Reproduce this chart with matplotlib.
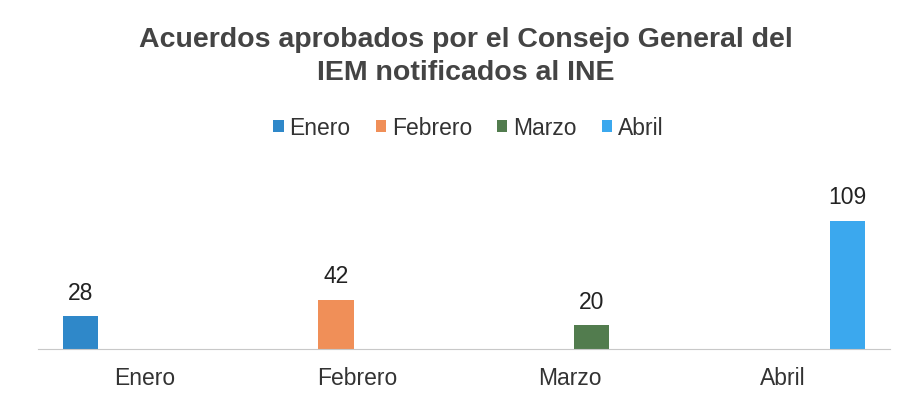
import numpy as np
import matplotlib.pyplot as plt

plt.rcParams['font.family'] = ['Liberation Sans', 'DejaVu Sans']

meses = ["Enero", "Febrero", "Marzo", "Abril"]
acuerdos = [28, 42, 20, 109]
colores = ["#2F88C9", "#F08F58", "#527C4E", "#3BA8EE"]

fig = plt.figure(figsize=(9.22, 4.14), dpi=100)
ax = fig.add_axes([0.041, 0.1546, 0.924, 0.3406])

x = np.arange(len(meses))
ancho = 0.165
paso = 0.2
for i, (mes, val, col) in enumerate(zip(meses, acuerdos, colores)):
    # cada serie solo tiene valor en su propio mes (barras agrupadas estilo Excel)
    off = (i - 1.5) * paso
    b = ax.bar(x[i] + off, val, width=ancho, color=col, label=mes)
    ax.bar_label(b, labels=[str(val)], padding=9, fontsize=16.5, color="#222222")

ax.set_xlim(-0.5, 3.5)
ax.set_ylim(0, 120)
ax.set_xticks(x)
ax.set_xticklabels(meses, fontsize=16.5, color="#333333")
ax.tick_params(axis='x', length=0, pad=12)
ax.set_yticks([])
for s in ["top", "right", "left"]:
    ax.spines[s].set_visible(False)
ax.spines["bottom"].set_color("#C8C8C8")
ax.spines["bottom"].set_linewidth(0.8)

fig.text(0.505, 0.863, "Acuerdos aprobados por el Consejo General del\nIEM notificados al INE",
         ha="center", va="center", fontsize=20.5, fontweight="bold", color="#444444",
         linespacing=1.35)

ax.legend(loc="center", bbox_to_anchor=(0.508, 0.69), bbox_transform=fig.transFigure,
          ncol=4, frameon=False, fontsize=16.5, handlelength=0.45, handleheight=0.45,
          handletextpad=0.25, columnspacing=1.1, labelcolor="#333333")

fig.savefig("out.png", dpi=100)
